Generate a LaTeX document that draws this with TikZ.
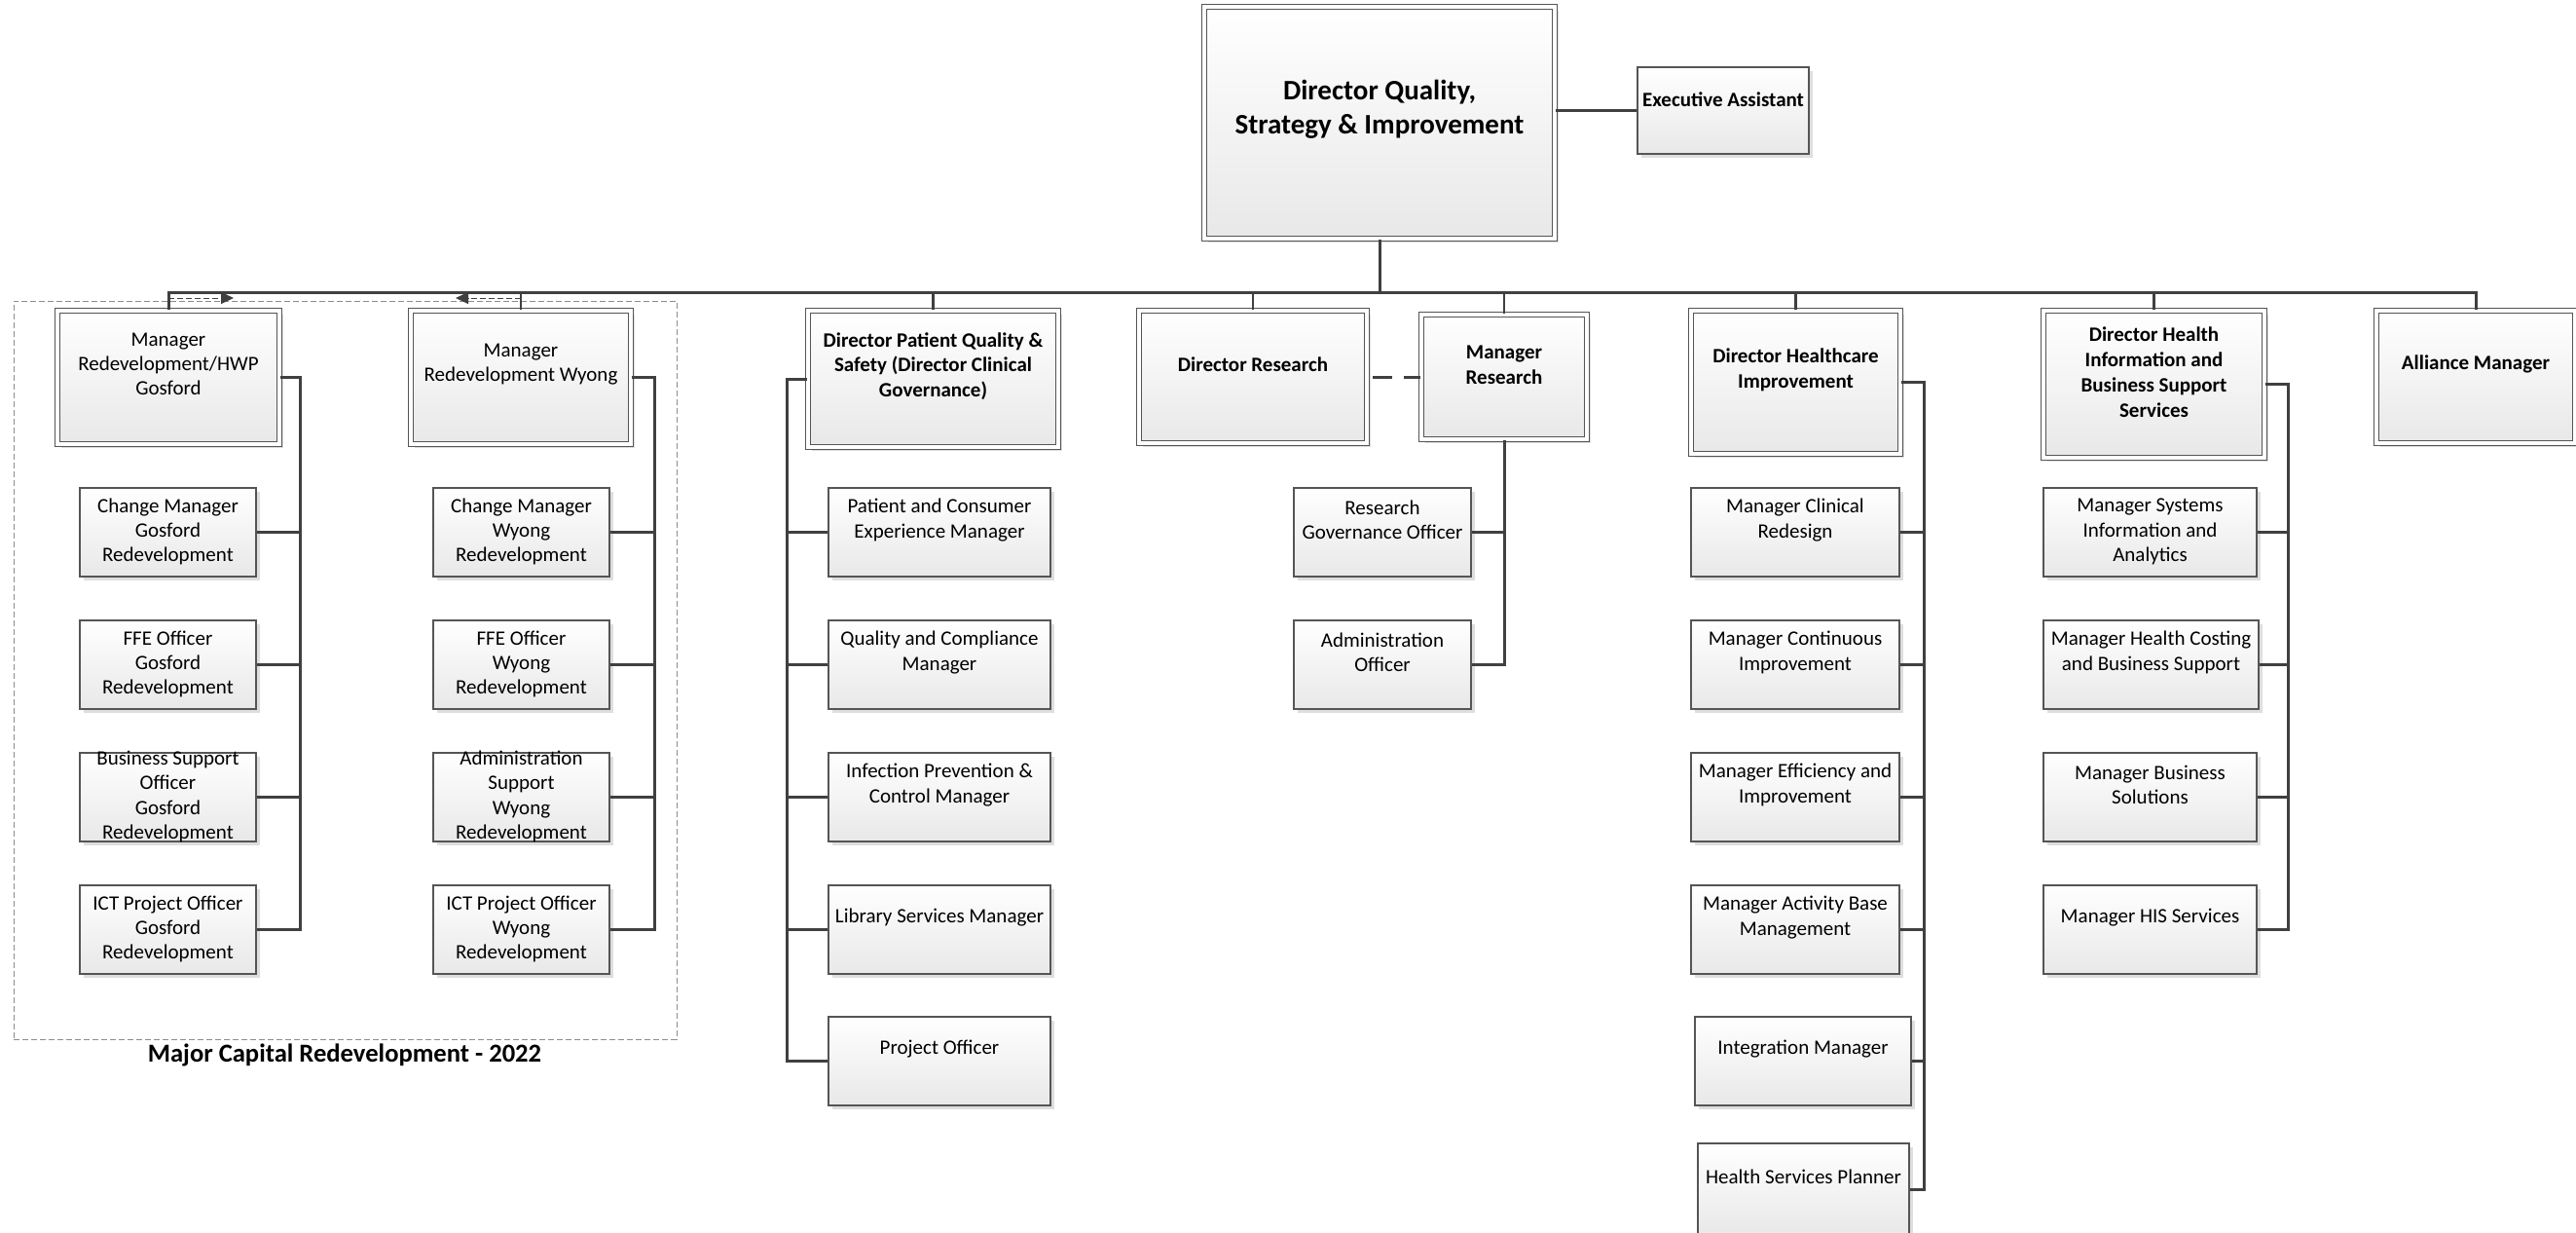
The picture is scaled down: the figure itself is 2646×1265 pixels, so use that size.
\documentclass[tikz,border=0pt]{standalone}
\usepackage{fontspec}
\setmainfont{Carlito}
\usetikzlibrary{fit,shadows,arrows.meta}
\definecolor{lnc}{HTML}{404040}
\definecolor{bdc}{HTML}{555555}
\tikzset{
  cbox/.style={draw=bdc, line width=0.7pt, top color=white, bottom color=black!9, inner sep=0pt,
    general shadow={fill=black!13, shadow xshift=2pt, shadow yshift=-2pt}},
  tbox/.style={cbox, double=white, double distance=1.7pt, line width=0.65pt},
  ctext/.style={inner sep=0pt, align=center, text=black, font=\fontsize{10.5}{12.65}\selectfont},
  btext/.style={inner sep=0pt, align=center, text=black, font=\fontsize{10.5}{12.9}\selectfont\bfseries},
  ttext/.style={inner sep=0pt, align=center, text=black, font=\fontsize{14.5}{17.5}\selectfont\bfseries},
  conn/.style={draw=lnc, line width=1.5pt},
  dropl/.style={draw=lnc, line width=1.2pt},
  dashl/.style={draw=lnc, line width=1.5pt, dash pattern=on 10pt off 6pt, dash phase=13.5pt},
  contbox/.style={draw=black!45, line width=0.5pt, dash pattern=on 3pt off 1.5pt, inner sep=0pt},
  arrowseg/.style={draw=lnc, line width=0.5pt, dash pattern=on 3pt off 1.5pt, -{Triangle[length=6.5pt,width=6pt]}},
}
\newcommand\mybox[9]{%
  \node[#1, fit={(#3,#4)(#5,#6)}] (#2) {};
  \node[#7] (#2-t) at ({(#3+#5)/2},#8) {#9};
}
\begin{document}
\begin{tikzpicture}[x=0.5pt, y=-0.5pt]
\useasboundingbox (0,0) rectangle (2646,1265);

% container
\node[contbox, fit={(14,309)(695,1067)}] (cont) {};
\node[inner sep=0pt, font=\fontsize{13.3}{16}\selectfont\bfseries] (contlabel) at (354,1083) {Major Capital Redevelopment - 2022};

% top
\mybox{tbox}{main}{1237}{7}{1597}{245}{ttext}{112}{Director Quality,\\Strategy \& Improvement}
\mybox{cbox}{ea}{1682}{69}{1858}{158}{btext}{102}{Executive Assistant}

% second level
\mybox{tbox}{gos}{59}{319}{287}{456}{ctext}{374}{Manager\\Redevelopment/HWP\\Gosford}
\mybox{tbox}{wyo}{422}{319}{648}{456}{ctext}{374}{Manager\\Redevelopment Wyong}
\mybox{tbox}{dpq}{830}{319}{1087}{459}{btext}{376}{Director Patient Quality \&\\Safety (Director Clinical\\Governance)}
\mybox{tbox}{dre}{1170}{319}{1404}{455}{btext}{374}{Director Research}
\mybox{tbox}{mre}{1460}{323}{1630}{451}{btext}{374.5}{Manager\\Research}
\mybox{tbox}{dhi}{1737}{319}{1952}{466}{btext}{379.5}{Director Healthcare\\Improvement}
\mybox{tbox}{dhb}{2099}{319}{2326}{470}{btext}{382}{Director Health\\Information and\\Business Support\\Services}
\mybox{tbox}{all}{2441}{319}{2645}{455}{btext}{374}{Alliance Manager}

% Gosford children
\mybox{cbox}{g1}{82}{501}{263}{592}{ctext}{546}{Change Manager\\Gosford\\Redevelopment}
\mybox{cbox}{g2}{82}{637}{263}{728}{ctext}{682}{FFE Officer\\Gosford\\Redevelopment}
\mybox{cbox}{g3}{82}{773}{263}{864}{ctext}{818}{Business Support\\Officer\\Gosford\\Redevelopment}
\mybox{cbox}{g4}{82}{909}{263}{1000}{ctext}{954}{ICT Project Officer\\Gosford\\Redevelopment}

% Wyong children
\mybox{cbox}{w1}{445}{501}{626}{592}{ctext}{546}{Change Manager\\Wyong\\Redevelopment}
\mybox{cbox}{w2}{445}{637}{626}{728}{ctext}{682}{FFE Officer\\Wyong\\Redevelopment}
\mybox{cbox}{w3}{445}{773}{626}{864}{ctext}{818}{Administration\\Support\\Wyong\\Redevelopment}
\mybox{cbox}{w4}{445}{909}{626}{1000}{ctext}{954}{ICT Project Officer\\Wyong\\Redevelopment}

% DPQS children
\mybox{cbox}{p1}{851}{501}{1079}{592}{ctext}{534}{Patient and Consumer\\Experience Manager}
\mybox{cbox}{p2}{851}{637}{1079}{728}{ctext}{670}{Quality and Compliance\\Manager}
\mybox{cbox}{p3}{851}{773}{1079}{864}{ctext}{806}{Infection Prevention \&\\Control Manager}
\mybox{cbox}{p4}{851}{909}{1079}{1000}{ctext}{942}{Library Services Manager}
\mybox{cbox}{p5}{851}{1044}{1079}{1135}{ctext}{1077}{Project Officer}

% Research children
\mybox{cbox}{r1}{1329}{501}{1511}{592}{ctext}{534}{Research\\Governance Officer}
\mybox{cbox}{r2}{1329}{637}{1511}{728}{ctext}{670}{Administration\\Officer}

% DHI children
\mybox{cbox}{h1}{1737}{501}{1951}{592}{ctext}{534}{Manager Clinical\\Redesign}
\mybox{cbox}{h2}{1737}{637}{1951}{728}{ctext}{670}{Manager Continuous\\Improvement}
\mybox{cbox}{h3}{1737}{773}{1951}{864}{ctext}{806}{Manager Efficiency and\\Improvement}
\mybox{cbox}{h4}{1737}{909}{1951}{1000}{ctext}{942}{Manager Activity Base\\Management}
\mybox{cbox}{h5}{1741}{1044}{1963}{1135}{ctext}{1077}{Integration Manager}
\mybox{cbox}{h6}{1744}{1174}{1961}{1268}{ctext}{1208}{Health Services Planner}

% DHIBSS children
\mybox{cbox}{b1}{2099}{501}{2318}{592}{ctext}{546}{Manager Systems\\Information and\\Analytics}
\mybox{cbox}{b2}{2099}{637}{2320}{728}{ctext}{670}{Manager Health Costing\\and Business Support}
\mybox{cbox}{b3}{2099}{773}{2318}{864}{ctext}{806}{Manager Business\\Solutions}
\mybox{cbox}{b4}{2099}{909}{2318}{1000}{ctext}{942}{Manager HIS Services}

% coordinates
\coordinate (busy) at (0,300);
\coordinate (gtr) at (308,0);
\coordinate (wtr) at (672,0);
\coordinate (ptr) at (808,0);
\coordinate (htr) at (1976,0);
\coordinate (btr) at (2350,0);
\coordinate (gosarr) at (240,306);
\coordinate (wyoarr) at (468,306);

% main connectors
\draw[conn] (main.south) -- (main.south |- busy);
\draw[conn] (main.east |- ea.west) -- (ea.west);
\draw[conn] (gos.north) -- (gos.north |- busy) -- (all.north |- busy) -- (all.north);
\foreach \n in {wyo,dpq,dre,mre,dhi,dhb}{
  \draw[dropl] (\n.north) -- (\n.north |- busy);
}

% container arrows
\draw[arrowseg] (gos.north |- gosarr) -- (gosarr);
\draw[arrowseg] (wyo.north |- wyoarr) -- (wyoarr);

% Gosford
\draw[conn] (gos.east) -- (gos.east -| gtr) |- (g4.east);
\foreach \n in {g1,g2,g3}{ \draw[conn] (\n.east) -- (\n.east -| gtr); }
% Wyong
\draw[conn] (wyo.east) -- (wyo.east -| wtr) |- (w4.east);
\foreach \n in {w1,w2,w3}{ \draw[conn] (\n.east) -- (\n.east -| wtr); }
% DPQS
\draw[conn] (dpq.west) -- (dpq.west -| ptr) |- (p5.west);
\foreach \n in {p1,p2,p3,p4}{ \draw[conn] (\n.west) -- (\n.west -| ptr); }
% Research
\draw[dashl] (dre.east) -- (mre.west);
\draw[conn] (mre.south) |- (r2.east);
\draw[conn] (r1.east) -- (r1.east -| mre.south);
% DHI
\draw[conn] (dhi.east) -- (dhi.east -| htr) |- (h6.east);
\foreach \n in {h1,h2,h3,h4,h5}{ \draw[conn] (\n.east) -- (\n.east -| htr); }
% DHIBSS
\draw[conn] (dhb.east) -- (dhb.east -| btr) |- (b4.east);
\foreach \n in {b1,b2,b3}{ \draw[conn] (\n.east) -- (\n.east -| btr); }
\end{tikzpicture}
\end{document}
